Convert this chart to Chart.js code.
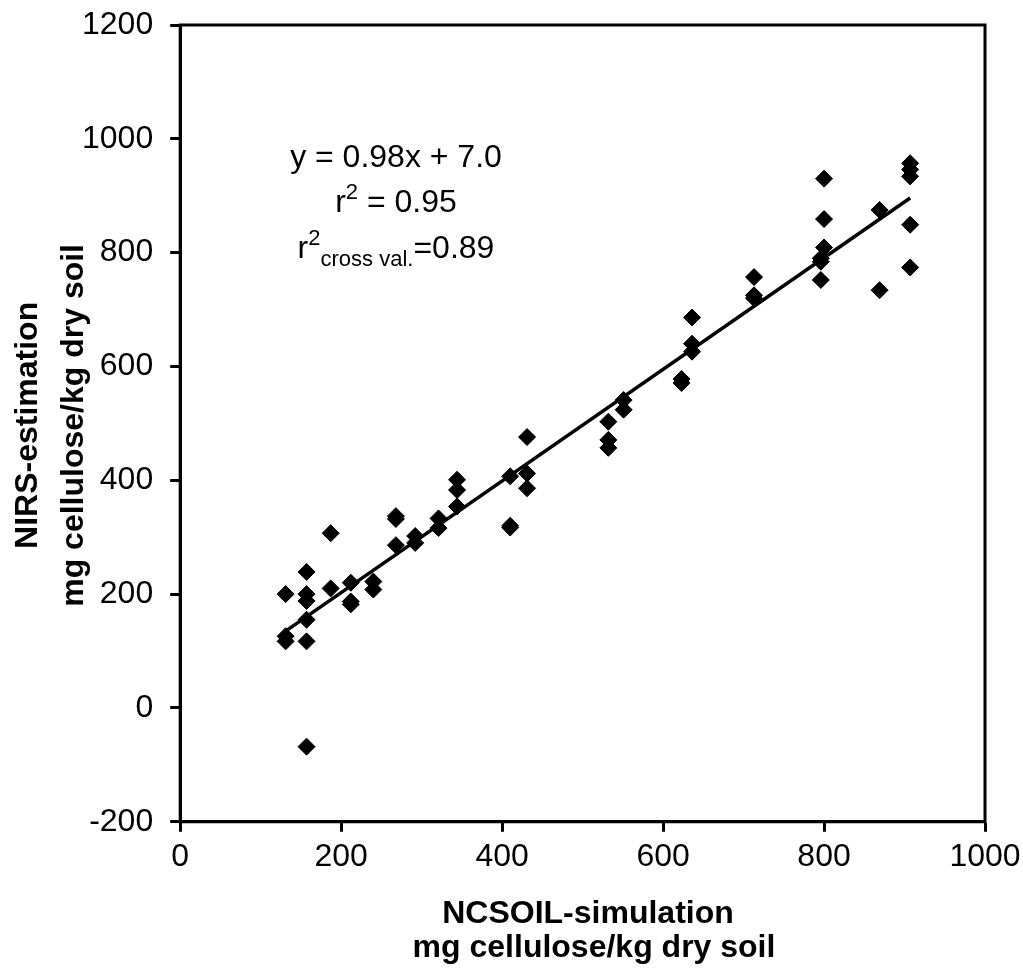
<!DOCTYPE html>
<html>
<head>
<meta charset="utf-8">
<script src="https://cdn.jsdelivr.net/npm/chart.js@4/dist/chart.umd.min.js"></script>
<style>
  body { margin: 0; background: #fff; }
  #wrap { width: 1023px; height: 969px; }
</style>
</head>
<body>
<div id="wrap"><canvas id="chart"></canvas></div>
<script>
// NCSOIL-simulated vs NIRS-estimated cellulose (mg/kg dry soil)
const simulated = [
  131, 131, 131,
  157, 157, 157, 157, 157, 157,
  187, 187,
  212, 212, 212,
  240, 240,
  268, 268, 268,
  292, 292,
  321, 321,
  344, 344, 344,
  410, 410, 410,
  431, 431, 431,
  532, 532, 532,
  551, 551,
  623, 623,
  636, 636, 636,
  713, 713, 713,
  800, 800, 800,
  796, 796, 796,
  869, 869,
  907, 907, 907, 907, 907
];
const estimated = [
  200, 126, 117,
  239, 200, 188, 155, 117, -68,
  307, 210,
  220, 187, 182,
  222, 208,
  337, 332, 286,
  302, 290,
  333, 316,
  401, 383, 354,
  407, 320, 317,
  476, 412, 386,
  503, 471, 457,
  541, 524,
  578, 571,
  686, 640, 626,
  757, 725, 720,
  930, 859, 809,
  790, 784, 752,
  875, 734,
  957, 946, 934, 849, 774
];

// regression line end points (y = 0.98x + 7.0)
const fitX = [131, 907];
const fitY = [135, 896];

const xTicks = [0, 200, 400, 600, 800, 1000];
const yTicks = [-200, 0, 200, 400, 600, 800, 1000, 1200];

const yTitle = ['NIRS-estimation', 'mg cellulose/kg dry soil'];
const xTitle = ['NCSOIL-simulation', 'mg cellulose/kg dry soil'];

const points = simulated.map((x, i) => ({ x: x, y: estimated[i] }));
const fitLine = fitX.map((x, i) => ({ x: x, y: fitY[i] }));

const FONT = "'Liberation Sans', Arial, sans-serif";

// frame round the plot area, the axis titles and the equation text
const extras = {
  id: 'extras',
  afterDraw(chart) {
    const ctx = chart.ctx;
    const a = chart.chartArea;
    ctx.save();
    ctx.strokeStyle = '#000';
    ctx.lineWidth = 3;
    ctx.strokeRect(a.left, a.top, a.right - a.left, a.bottom - a.top);

    ctx.fillStyle = '#000';
    ctx.textBaseline = 'alphabetic';

    // y title, two rotated lines
    ctx.save();
    ctx.translate(0, (a.top + a.bottom) / 2 + 2);
    ctx.rotate(-Math.PI / 2);
    ctx.textAlign = 'center';
    ctx.font = 'bold 32px ' + FONT;
    ctx.fillText(yTitle[0], 0, 37);
    ctx.fillText(yTitle[1], 0, 83);
    ctx.restore();

    // x title, two lines (space kept by the hidden scale title)
    ctx.textAlign = 'center';
    ctx.font = 'bold 32px ' + FONT;
    ctx.fillText(xTitle[0], 588, 923);
    ctx.fillText(xTitle[1], 594, 957);

    const cx = 396;
    ctx.textAlign = 'left';

    // line 1
    ctx.font = '32px ' + FONT;
    let t = 'y = 0.98x + 7.0';
    ctx.fillText(t, cx - ctx.measureText(t).width / 2, 167);

    // line 2: r² = 0.95
    let wr = ctx.measureText('r').width;
    let rest = ' = 0.95';
    let wrest = ctx.measureText(rest).width;
    ctx.font = '22px ' + FONT;
    let w2 = ctx.measureText('2').width;
    let x0 = cx - (wr + w2 + wrest) / 2;
    ctx.font = '32px ' + FONT;
    ctx.fillText('r', x0, 212);
    ctx.font = '22px ' + FONT;
    ctx.fillText('2', x0 + wr, 199);
    ctx.font = '32px ' + FONT;
    ctx.fillText(rest, x0 + wr + w2, 212);

    // line 3: r²cross val.=0.89
    wr = ctx.measureText('r').width;
    rest = '=0.89';
    wrest = ctx.measureText(rest).width;
    ctx.font = '22px ' + FONT;
    w2 = ctx.measureText('2').width;
    const sub = 'cross val.';
    const wsub = ctx.measureText(sub).width;
    x0 = cx - (wr + w2 + wsub + wrest) / 2;
    ctx.font = '32px ' + FONT;
    ctx.fillText('r', x0, 258);
    ctx.font = '22px ' + FONT;
    ctx.fillText('2', x0 + wr, 245);
    ctx.fillText(sub, x0 + wr + w2, 266);
    ctx.font = '32px ' + FONT;
    ctx.fillText(rest, x0 + wr + w2 + wsub, 258);
    ctx.restore();
  }
};

new Chart(document.getElementById('chart'), {
  type: 'scatter',
  data: {
    datasets: [
      {
        label: 'NIRS vs NCSOIL',
        data: points,
        pointStyle: 'rectRot',
        pointRadius: 8.5,
        pointBackgroundColor: '#000',
        pointBorderColor: '#000',
        pointBorderWidth: 1,
        showLine: false
      },
      {
        label: 'fit',
        data: fitLine,
        showLine: true,
        borderColor: '#000',
        borderWidth: 3.5,
        pointRadius: 0,
        fill: false
      }
    ]
  },
  options: {
    responsive: true,
    maintainAspectRatio: false,
    animation: false,
    layout: { padding: { top: 25, right: 38, left: 65, bottom: 6 } },
    plugins: {
      legend: { display: false },
      tooltip: { enabled: false }
    },
    scales: {
      x: {
        type: 'linear',
        min: 0,
        max: 1000,
        afterBuildTicks: (s) => { s.ticks = xTicks.map(v => ({ value: v })); },
        afterFit: (s) => { s.paddingLeft = 0; s.paddingRight = 0; },
        border: { display: true, color: '#000', width: 3 },
        grid: { drawOnChartArea: false, drawTicks: true, tickLength: 10, tickWidth: 3, tickColor: '#000' },
        ticks: { color: '#000', font: { family: FONT, size: 32 }, padding: 6, maxRotation: 0,
          callback: (v) => String(v) },
        title: {
          display: true,
          text: xTitle,
          color: 'rgba(0,0,0,0)',
          font: { family: FONT, size: 32, weight: 'bold', lineHeight: 1.06 },
          padding: { top: 13, bottom: 0 }
        }
      },
      y: {
        type: 'linear',
        min: -200,
        max: 1200,
        afterBuildTicks: (s) => { s.ticks = yTicks.map(v => ({ value: v })); },
        afterFit: (s) => { s.paddingTop = 0; s.paddingBottom = 0; },
        border: { display: true, color: '#000', width: 3 },
        grid: { drawOnChartArea: false, drawTicks: true, tickLength: 10, tickWidth: 3, tickColor: '#000' },
        ticks: { color: '#000', font: { family: FONT, size: 32 }, padding: 17,
          callback: (v) => String(v) }
      }
    }
  },
  plugins: [extras]
});
</script>
</body>
</html>
